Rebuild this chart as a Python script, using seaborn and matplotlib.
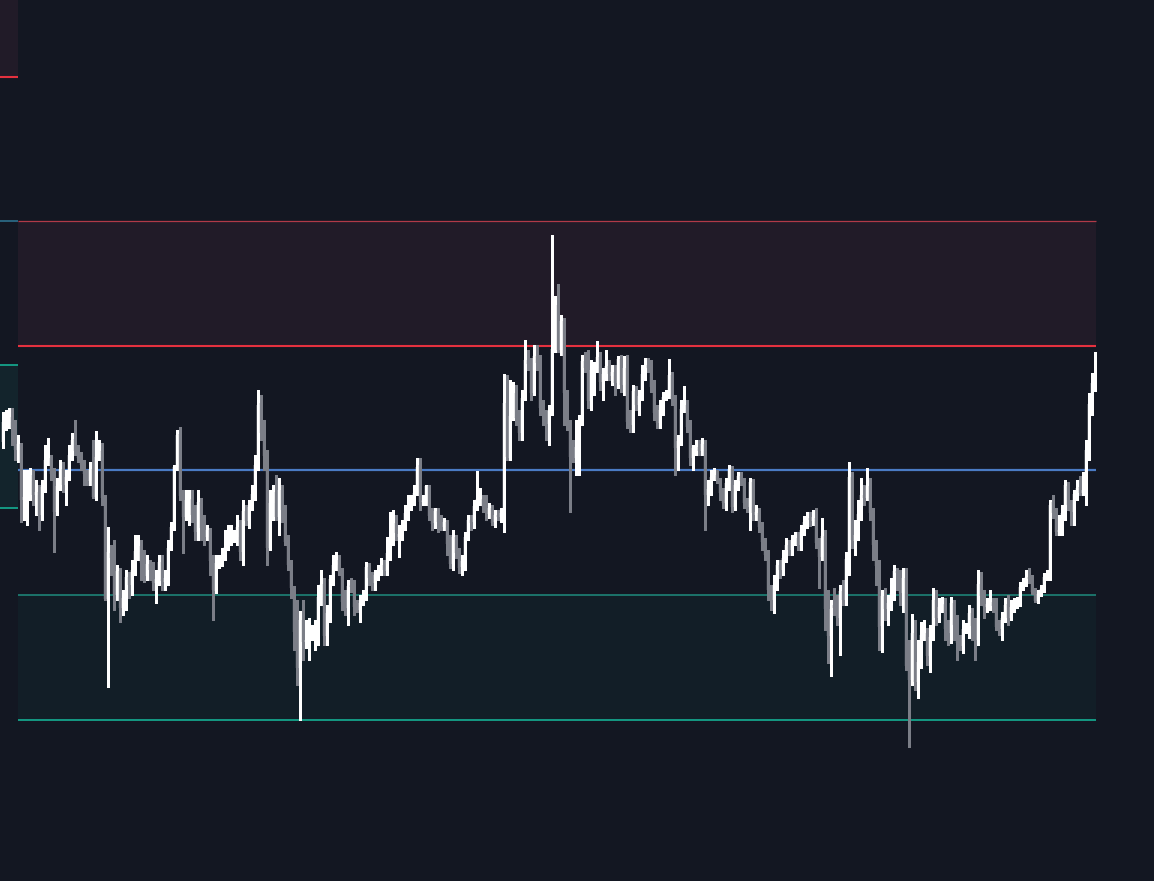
import numpy as np
import pandas as pd
import matplotlib
matplotlib.use("Agg")
import matplotlib.pyplot as plt
import seaborn as sns

# ---------------- data (prices) ----------------
opens = [
558,577,578,583,572,550,556,500,502,519,
525,505,508,485,513,539,542,527,488,514,
531,515,523,544,561,549,542,535,526,519,
531,503,543,549,499,401,447,442,405,429,
392,401,423,415,429,448,454,437,424,436,
431,417,421,438,418,421,452,473,533,566,
504,483,500,501,485,468,498,472,463,470,
439,409,437,438,443,453,460,462,463,473,
448,489,479,493,505,535,597,567,544,452,
497,508,483,510,490,458,435,412,368,332,
380,358,359,367,367,367,403,416,364,387,
421,435,440,428,399,392,414,413,393,390,
397,403,433,423,417,425,428,435,429,447,
459,477,463,465,475,487,493,499,507,535,
498,497,514,484,477,489,478,473,478,457,
436,463,448,433,438,462,480,478,493,500,
501,493,486,492,478,485,483,486,597,542,
583,607,582,567,602,640,637,607,644,637,
592,585,576,589,650,695,650,679,607,575,
545,542,553,578,639,632,599,630,632,643,
618,626,634,624,628,617,641,615,632,578,
575,609,595,603,625,635,633,613,587,577,
589,603,604,625,600,552,558,590,595,573,
542,551,553,549,556,505,510,523,525,520,
508,497,516,531,493,514,524,519,497,493,
518,485,487,474,458,445,410,400,415,435,
430,442,455,450,460,462,455,470,478,482,
479,482,457,443,464,391,364,395,394,382,
409,400,440,523,459,464,485,505,502,514,
487,455,435,374,404,391,396,406,429,425,
407,422,334,320,367,318,338,364,367,344,
362,400,382,395,396,371,367,397,376,358,
354,371,371,387,374,360,416,405,393,396,
398,394,373,371,382,396,382,393,395,398,
412,417,423,421,408,399,406,411,422,422,
498,487,468,468,486,514,497,488,505,513,
507,507,549,595,617,
]

closes = [
578,582,584,572,550,556,500,503,520,526,
505,508,485,513,540,543,526,488,514,531,
515,523,545,560,549,542,535,526,519,531,
503,543,548,502,401,448,442,405,429,392,
402,423,415,430,449,454,437,425,436,430,
417,421,438,419,422,452,473,533,565,504,
483,500,502,485,468,498,472,463,470,439,
410,437,440,443,453,461,463,465,473,448,
489,479,493,506,535,595,567,544,452,497,
508,483,510,490,458,435,412,368,332,380,
358,360,367,368,369,403,416,364,387,421,
435,440,428,398,392,414,413,393,392,397,
403,433,422,417,425,428,435,430,447,459,
477,467,466,475,487,494,500,507,533,498,
499,514,484,476,489,478,474,478,456,436,
463,447,432,439,463,480,477,494,501,501,
493,487,492,477,485,483,487,597,543,584,
607,582,567,602,640,636,607,644,637,592,
585,576,589,651,695,650,679,607,575,543,
542,553,578,639,632,599,630,632,643,618,
626,634,626,628,617,641,615,632,578,575,
609,595,604,626,635,632,613,587,577,590,
603,605,625,600,552,559,591,595,573,542,
552,552,549,556,505,511,523,525,520,507,
497,517,531,493,515,524,519,497,493,518,
487,488,473,458,445,410,400,415,435,430,
442,455,450,460,462,455,470,478,482,480,
483,457,443,464,391,364,391,392,382,409,
400,441,523,460,465,486,505,502,514,487,
455,434,373,404,391,397,407,429,427,407,
422,334,320,367,318,338,365,367,344,363,
400,382,393,396,371,367,397,375,357,355,
371,372,387,374,360,416,404,393,396,398,
394,373,371,382,395,382,393,396,398,413,
417,423,421,408,399,406,411,423,425,495,
487,468,470,487,515,495,488,506,512,507,
510,550,596,617,625,
]

highs = [
588,590,592,592,580,565,557,530,530,532,
530,520,515,520,555,562,545,532,522,540,
538,530,555,567,580,555,548,540,530,538,
560,569,560,557,505,473,455,460,435,432,
410,430,428,440,465,465,460,450,445,440,
438,430,445,445,430,460,478,535,570,573,
510,510,510,510,495,510,502,485,475,472,
445,445,445,452,470,475,475,470,485,480,
500,495,500,515,545,610,605,580,550,510,
515,525,522,515,495,465,440,414,400,389,
400,380,382,375,380,415,430,422,395,425,
445,448,445,432,410,420,422,420,400,405,
410,438,437,428,430,435,442,440,463,488,
490,485,475,480,495,505,505,515,542,542,
505,515,515,492,492,492,485,482,480,465,
470,465,452,445,468,485,485,500,529,512,
505,505,497,495,490,490,492,626,625,620,
618,615,590,610,660,650,642,655,655,645,
600,590,595,765,704,716,685,682,610,580,
560,580,585,645,648,650,640,638,659,648,
632,650,640,635,635,644,645,644,645,590,
615,614,610,635,642,642,640,620,595,600,
608,610,641,628,605,565,600,614,600,580,
555,560,560,562,560,520,530,532,530,522,
512,522,535,534,520,528,528,522,502,522,
521,495,492,478,462,450,415,425,440,440,
450,462,460,465,468,468,475,484,488,488,
490,492,462,482,470,410,400,412,405,415,
420,448,538,528,480,500,522,515,532,522,
492,460,440,410,412,405,422,435,432,430,
432,432,360,386,380,360,378,380,372,375,
412,410,402,403,402,380,403,400,385,365,
380,377,395,392,382,430,428,410,402,410,
402,402,380,388,402,405,400,402,403,418,
422,430,432,425,412,410,415,427,430,500,
505,492,485,495,520,518,500,510,520,524,
528,560,607,627,648,
]

lows = [
552,570,572,555,540,538,478,480,475,500,
495,485,470,480,508,535,520,448,485,510,
508,495,520,540,545,538,530,515,515,515,
502,500,540,495,400,313,425,390,400,378,
385,390,402,405,425,440,420,418,420,420,
410,397,415,410,410,415,450,470,530,500,
447,480,475,478,460,460,460,455,460,425,
380,407,432,434,440,450,455,458,455,440,
435,475,472,490,500,530,560,530,435,450,
480,480,465,478,455,430,402,350,315,280,
340,352,340,360,350,355,395,355,355,378,
415,430,425,390,385,375,408,385,388,378,
395,400,415,410,410,420,425,425,425,440,
455,460,443,460,470,480,490,495,505,490,
495,495,480,470,472,468,470,470,445,432,
430,442,427,425,430,460,470,472,490,495,
488,480,482,475,473,480,478,468,540,540,
580,575,560,560,600,630,600,605,630,585,
575,560,555,585,648,648,645,575,570,488,
538,525,525,575,628,592,590,605,628,610,
600,620,620,615,605,612,608,605,572,568,
568,590,585,600,620,628,608,580,572,572,
585,600,602,595,525,530,555,588,568,535,
530,545,545,545,470,495,505,520,517,500,
492,490,510,488,490,510,515,492,488,470,
480,480,468,450,440,400,390,387,410,422,
425,438,445,445,455,450,450,465,472,474,
475,452,412,440,370,337,324,385,375,345,
395,395,425,452,445,460,480,495,500,480,
440,415,350,348,380,375,390,400,410,395,
388,330,253,315,310,302,332,360,335,328,
360,375,378,388,360,355,357,360,340,350,
347,367,362,360,340,355,395,382,388,390,
388,370,365,360,378,375,380,388,392,394,
410,414,417,406,398,397,404,408,420,420,
482,465,465,465,480,490,475,475,500,505,
505,495,540,585,609,
]

# horizontal levels (prices)
supply_zone = (654, 779)        # upper red zone
pivot_level = 530               # blue line
demand_zone = (280, 405)        # lower teal zone
old_supply_zone = (923, 1000)   # left strip, top box
old_demand_zone = (492, 635)    # left strip, teal box
old_level = 779                 # left strip line

# ---------------- style ----------------
BG = "#131722"
UP = "#ffffff"
DOWN = "#7b7e87"

sns.set_theme(style="dark", rc={"axes.facecolor": BG, "figure.facecolor": BG,
                                "savefig.facecolor": BG})

df = pd.DataFrame({"open": opens, "high": highs, "low": lows, "close": closes})
df["idx"] = np.arange(len(df))
df["up"] = df["close"] >= df["open"]

fig = plt.figure(figsize=(11.54, 8.81), dpi=100)
ax = fig.add_axes([0, 0, 1, 1])
ax.set_facecolor(BG)

x_left, x_right = -1.0, 383.67
zone_x0, zone_x1 = 5.0, 364.4

# zones
ax.fill_between([zone_x0, zone_x1], supply_zone[0], supply_zone[1], color="#211b28", lw=0, zorder=1)
ax.fill_between([zone_x0, zone_x1], demand_zone[0], demand_zone[1], color="#121e27", lw=0, zorder=1)
ax.fill_between([x_left, zone_x0], old_supply_zone[0], old_supply_zone[1], color="#211b28", lw=0, zorder=1)
ax.fill_between([x_left, zone_x0], old_demand_zone[0], old_demand_zone[1], color="#13242c", lw=0, zorder=1)

# lines
ax.hlines(supply_zone[1], zone_x0, zone_x1, color="#b03a48", lw=0.9, zorder=2)
ax.hlines(supply_zone[0], zone_x0, zone_x1, color="#e5313f", lw=1.5, zorder=2)
ax.hlines(pivot_level, zone_x0, zone_x1, color="#4a7bc4", lw=1.6, zorder=2)
ax.hlines(demand_zone[1], zone_x0, zone_x1, color="#1f8c7e", lw=1.1, zorder=2)
ax.hlines(demand_zone[0], zone_x0, zone_x1, color="#15a38b", lw=1.3, zorder=2)
ax.hlines(old_supply_zone[0], x_left, zone_x0, color="#e5313f", lw=1.5, zorder=2)
ax.hlines(old_level, x_left, zone_x0, color="#2d6f8c", lw=1.2, zorder=2)
ax.hlines(old_demand_zone[1], x_left, zone_x0, color="#15a38b", lw=1.3, zorder=2)
ax.hlines(old_demand_zone[0], x_left, zone_x0, color="#15a38b", lw=1.3, zorder=2)

# candles
for is_up, col in [(False, DOWN), (True, UP)]:
    d = df[df["up"] == is_up]
    top = np.maximum.reduce([d["high"].values, d["open"].values, d["close"].values])
    bot = np.minimum.reduce([d["low"].values, d["open"].values, d["close"].values])
    ax.vlines(d["idx"], bot, top, color=col, lw=0.75, zorder=3, antialiased=False)
    body_bottom = np.minimum(d["open"].values, d["close"].values)
    body_h = np.maximum(np.abs(d["close"].values - d["open"].values), 1.5)
    bars = ax.bar(d["idx"], body_h, bottom=body_bottom, width=0.8, color=col,
                  edgecolor="none", linewidth=0, zorder=4)
    for p in bars.patches:
        p.set_snap(False)
        p.set_antialiased(True)

ax.set_xlim(x_left, x_right)
ax.set_ylim(119, 1000)
ax.axis("off")

fig.savefig("out.png", dpi=100, facecolor=BG)
